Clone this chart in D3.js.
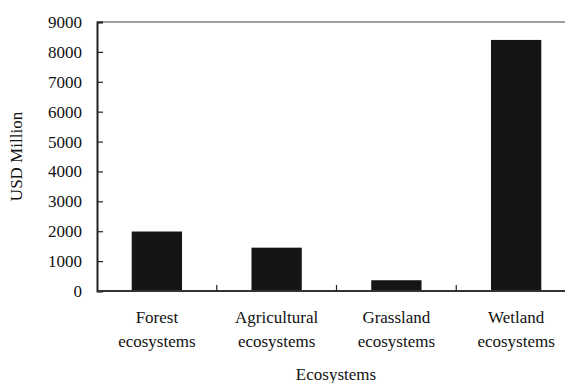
<!DOCTYPE html>
<html>
<head>
<meta charset="utf-8">
<script src="https://cdn.jsdelivr.net/npm/d3@7"></script>
<style>
  body { margin: 0; background: #fff; }
</style>
</head>
<body>
<div id="chart"></div>
<script>
// data
const categories = ['Forest ecosystems', 'Agricultural ecosystems', 'Grassland ecosystems', 'Wetland ecosystems'];
const values = [1990, 1450, 360, 8400];
const yTicks = [0, 1000, 2000, 3000, 4000, 5000, 6000, 7000, 8000, 9000];

const fontFamily = 'Liberation Serif';
const fontSize = 17;
const width = 565, height = 383;
const margin = { left: 97, top: 22, right: -11, bottom: 92 };
const innerWidth = width - margin.left - margin.right;
const innerHeight = height - margin.top - margin.bottom;

const svg = d3.select('#chart')
  .append('svg')
  .attr('width', width)
  .attr('height', height);

const g = svg.append('g')
  .attr('transform', `translate(${margin.left},${margin.top})`);

const xScale = d3.scaleBand()
  .domain(categories)
  .range([0, innerWidth])
  .paddingInner(0.58)
  .paddingOuter(0.29);

const yScale = d3.scaleLinear()
  .domain([0, 9000])
  .range([innerHeight, 0]);

// top border line (gray)
g.append('line')
  .attr('x1', 0).attr('x2', width - margin.left)
  .attr('y1', yScale(9000)).attr('y2', yScale(9000))
  .attr('stroke', '#a0a0a0')
  .attr('stroke-width', 2);

// bars
g.append('g')
  .selectAll('rect')
  .data(categories)
  .join('rect')
  .attr('x', d => xScale(d))
  .attr('width', xScale.bandwidth())
  .attr('y', (d, i) => yScale(values[i]))
  .attr('height', (d, i) => innerHeight - yScale(values[i]))
  .attr('fill', '#151515');

// y axis
const yAxis = g.append('g')
  .call(d3.axisLeft(yScale).tickValues(yTicks).tickSize(-6).tickPadding(15).tickFormat(d3.format('d')));
yAxis.select('.domain').attr('stroke', '#222').attr('stroke-width', 2);
yAxis.selectAll('.tick line').attr('stroke', '#222').attr('stroke-width', 1.2);

// x axis: ticks between bands, pointing up
const step = xScale.step();
const bandEdges = d3.range(1, categories.length).map(i => xScale(categories[i]) - step * xScale.paddingInner() / 2);
const xAxis = g.append('g').attr('transform', `translate(0,${innerHeight})`);
xAxis.append('line')
  .attr('x1', 0).attr('x2', width - margin.left)
  .attr('stroke', '#333').attr('stroke-width', 2);
xAxis.selectAll('line.tick')
  .data(bandEdges)
  .join('line')
  .attr('class', 'tick')
  .attr('x1', d => d).attr('x2', d => d)
  .attr('y1', 0).attr('y2', -6)
  .attr('stroke', '#222').attr('stroke-width', 1.2);

// x labels, two lines each
const labels = xAxis.selectAll('text.lbl')
  .data(categories)
  .join('text')
  .attr('class', 'lbl')
  .attr('text-anchor', 'middle')
  .attr('transform', d => `translate(${xScale(d) + xScale.bandwidth() / 2},0)`);
labels.append('tspan').attr('x', 0).attr('y', 32).text(d => d.split(' ')[0]);
labels.append('tspan').attr('x', 0).attr('y', 56).text(d => d.split(' ')[1]);

// x axis title
svg.append('text')
  .attr('text-anchor', 'middle')
  .attr('x', 336)
  .attr('y', 380)
  .text('Ecosystems');

// y axis title
svg.append('text')
  .attr('text-anchor', 'middle')
  .attr('transform', `translate(22,${margin.top + innerHeight / 2}) rotate(-90)`)
  .text('USD Million');

// same font on every text
svg.selectAll('text')
  .attr('font-family', fontFamily)
  .attr('font-size', fontSize)
  .attr('fill', '#111')
  .style('font-family', fontFamily);
</script>
</body>
</html>
